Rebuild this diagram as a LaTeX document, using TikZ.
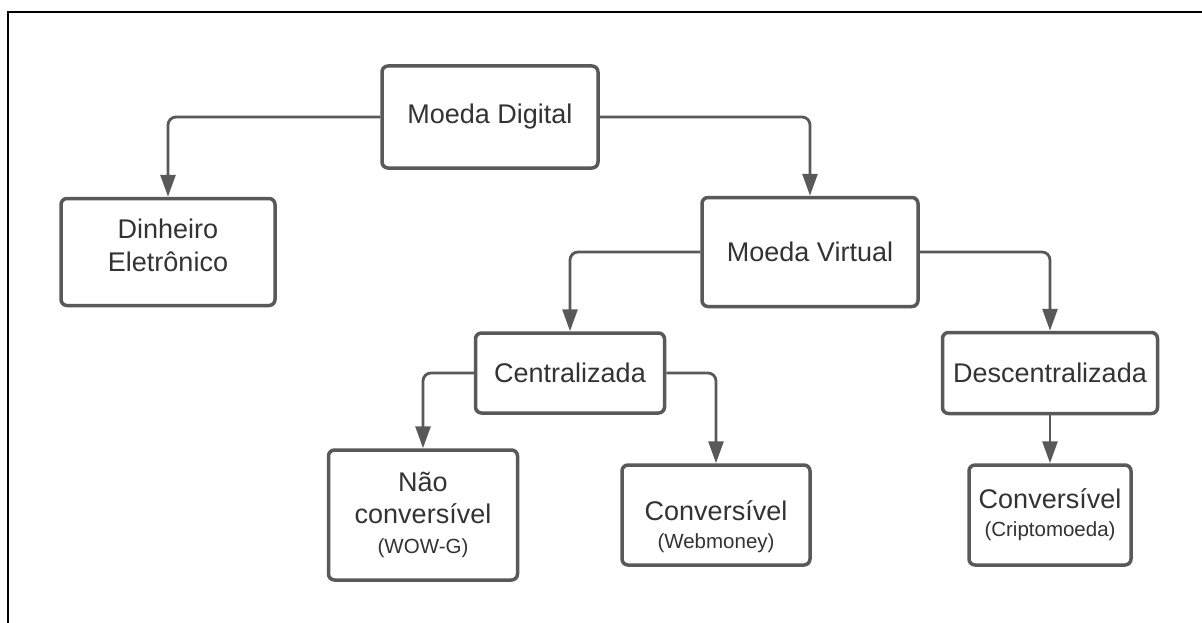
\documentclass[tikz,border=0pt]{standalone}
\usepackage{fontspec}
\setmainfont{Liberation Sans}
\usetikzlibrary{arrows.meta}
\definecolor{linegray}{HTML}{595959}
\definecolor{textgray}{HTML}{333333}
\tikzset{
  box/.style={draw=linegray, line width=3.5pt, rounded corners=6pt, fill=white,
    align=center, text=textgray, font=\fontsize{27}{32}\selectfont, inner sep=0pt},
  lbl/.style={align=center, text=textgray, font=\fontsize{27}{32}\selectfont, inner sep=0pt},
  conn/.style={draw=linegray, line width=2.8pt, rounded corners=8pt,
    -{Triangle[width=15pt,length=22pt]}}
}
\newcommand{\sm}[1]{{\fontsize{20.5}{26}\selectfont #1}}
\begin{document}
\begin{tikzpicture}[x=1pt,y=-1pt]
\useasboundingbox (0,0) rectangle (1202,623);
\draw[black, line width=1.5pt] (8,623) -- (8,12) -- (1202,12);
\node[box, minimum width=216pt, minimum height=102pt] (md) at (490,117) {Moeda Digital};
\node[box, minimum width=214pt, minimum height=107pt] (de) at (168,252) {};
\node[lbl] (detext) at (168,245) {Dinheiro\\[1pt]Eletrônico};
\node[box, minimum width=216pt, minimum height=109pt] (mv) at (810,252) {Moeda Virtual};
\node[box, minimum width=189pt, minimum height=80pt] (ce) at (570,373) {Centralizada};
\node[box, minimum width=215pt, minimum height=81pt] (dc) at (1050,373) {Descentralizada};
\node[box, minimum width=189pt, minimum height=130pt] (nc) at (423,515) {Não\\conversível\\[-2pt]\sm{(WOW-G)}};
\node[box, minimum width=188pt, minimum height=100pt] (wm) at (716,515) {};
\node[lbl] (wmtext) at (716,527) {Conversível\\[-4pt]\sm{(Webmoney)}};
\node[box, minimum width=162pt, minimum height=100pt] (cr) at (1050,515) {Conversível\\[-4pt]\sm{(Criptomoeda)}};
\draw[conn] (md.west) -| (de.north);
\draw[conn] (md.east) -| (mv.north);
\draw[conn] (mv.west) -| (ce.north);
\draw[conn] (mv.east) -| (dc.north);
\draw[conn] (ce.west) -| (nc.north);
\draw[conn] (ce.east) -| (wm.north);
\draw[conn] (dc.south) -- (cr.north);
\end{tikzpicture}
\end{document}
